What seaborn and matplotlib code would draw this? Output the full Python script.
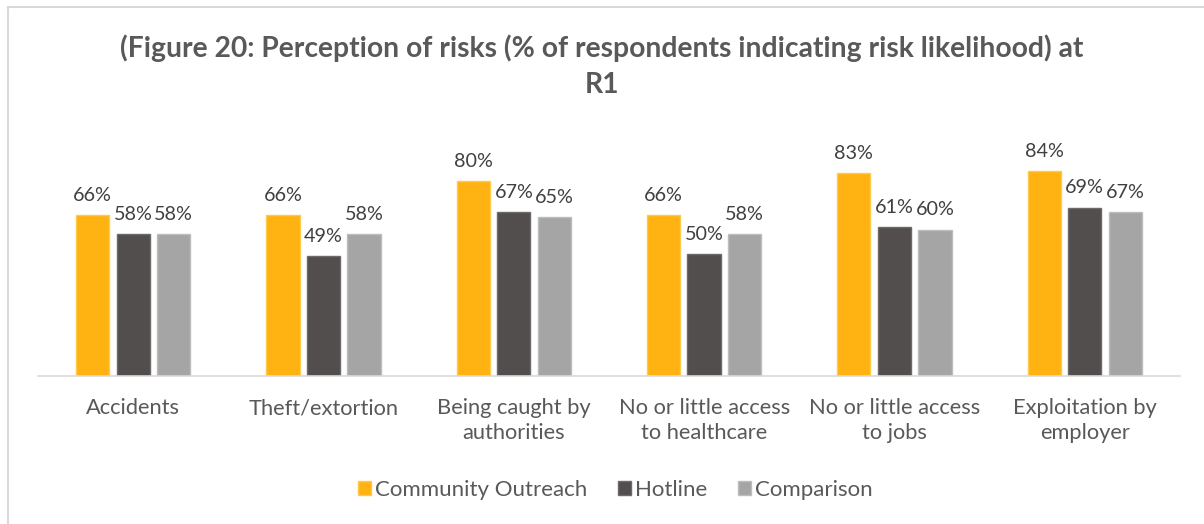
import matplotlib
matplotlib.use("Agg")
import matplotlib.pyplot as plt
import seaborn as sns
import pandas as pd
from matplotlib.patches import Patch

categories = ["Accidents", "Theft/extortion", "Being caught by\nauthorities",
              "No or little access\nto healthcare", "No or little access\nto jobs",
              "Exploitation by\nemployer"]
series = ["Community Outreach", "Hotline", "Comparison"]
community = [66, 66, 80, 66, 83, 84]
hotline = [58, 49, 67, 50, 61, 69]
comparison = [58, 58, 65, 58, 60, 67]

colors = ["#FFB312", "#524E4D", "#A5A5A5"]
edges = ["#FFC94D", "#6E6A69", "#BDBDBD"]
text_color = "#595959"

rows = []
for i, c in enumerate(categories):
    for s, vals in zip(series, [community, hotline, comparison]):
        rows.append({"category": c, "series": s, "value": vals[i]})
df = pd.DataFrame(rows)

sns.set_theme(style="white")
plt.rcParams["font.family"] = ["Lato", "DejaVu Sans"]

fig = plt.figure(figsize=(12.04, 5.24), dpi=100)
ax = fig.add_axes([0.0316, 0.2824, 0.9484, 0.466])

sns.barplot(data=df, x="category", y="value", hue="series", palette=colors,
            ax=ax, width=0.64, gap=0.18, legend=False, saturation=1)

for bars, ec in zip(ax.containers, edges):
    for b in bars:
        b.set_edgecolor(ec)
        b.set_linewidth(1.0)
    ax.bar_label(bars, labels=[f"{int(round(v))}%" for v in bars.datavalues],
                 padding=8, fontsize=14.2, color="#404040", clip_on=False)

ax.set_ylim(0, 100)
ax.set_xlim(-0.5, len(categories) - 0.5)
ax.set_xlabel("")
ax.set_ylabel("")
ax.set_yticks([])
for s in ["top", "right", "left"]:
    ax.spines[s].set_visible(False)
ax.spines["bottom"].set_color("#D9D9D9")
ax.spines["bottom"].set_linewidth(1.2)
ax.tick_params(axis="x", length=0, pad=16, labelsize=15.75, labelcolor=text_color)
for lbl in ax.get_xticklabels():
    lbl.set_linespacing(1.3)

fig.text(0.5, 0.908, "(Figure 20: Perception of risks (% of respondents indicating risk likelihood) at",
         ha="center", va="center", fontsize=20.3, fontweight="bold", color=text_color)
fig.text(0.5, 0.838, "R1", ha="center", va="center", fontsize=20.3,
         fontweight="bold", color=text_color)

handles = [Patch(facecolor=c, edgecolor=e, label=s) for c, e, s in zip(colors, edges, series)]
fig.legend(handles=handles, loc="center", bbox_to_anchor=(0.511, 0.065), ncol=3,
           frameon=False, fontsize=16, labelcolor=text_color, handlelength=0.6,
           handleheight=0.6, handletextpad=0.2, columnspacing=1.35)

# chart frame
fig.add_artist(plt.Line2D([0.0066, 1.0], [0.987, 0.987], color="#D9D9D9", lw=1.5,
                          transform=fig.transFigure))
fig.add_artist(plt.Line2D([0.0066, 0.0066], [0.0, 0.987], color="#D9D9D9", lw=1.5,
                          transform=fig.transFigure))

fig.savefig("out.png", dpi=100, facecolor="white")
